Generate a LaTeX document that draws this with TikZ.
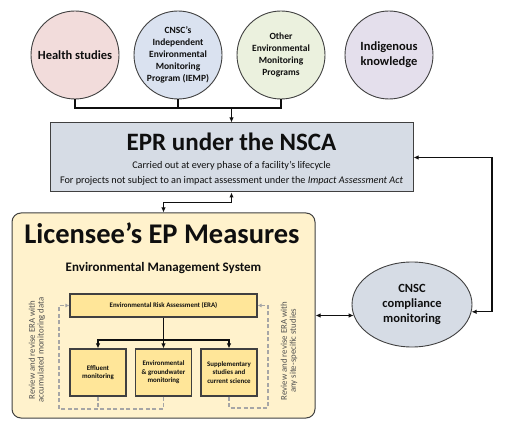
\documentclass[tikz,border=0pt]{standalone}
\usepackage{fontspec}
\setmainfont{Carlito}
\usetikzlibrary{arrows.meta,positioning,calc,shapes.geometric}
\definecolor{Ink}{RGB}{15,15,15}
\definecolor{Edge}{RGB}{64,64,64}
\definecolor{SoftPink}{RGB}{242,220,219}
\definecolor{SoftBlue}{RGB}{218,226,240}
\definecolor{SoftGreen}{RGB}{235,241,222}
\definecolor{SoftLilac}{RGB}{228,223,236}
\definecolor{PanelBlue}{RGB}{214,220,229}
\definecolor{PanelCream}{RGB}{255,242,204}
\definecolor{BoxGold}{RGB}{255,230,153}
\definecolor{DashGray}{RGB}{166,166,166}
\definecolor{NoteGray}{RGB}{80,80,80}
\tikzset{
  >={Latex[length=5pt,width=4.5pt]},
  source/.style={circle,draw=Edge,line width=.9pt,minimum size=88pt,inner sep=1pt,align=center,text=Ink,font=\bfseries\fontsize{12.5}{15}\selectfont},
  sourcesmall/.style={source,font=\bfseries\fontsize{9.5}{12}\selectfont},
  panel/.style={draw=Edge,line width=1pt,fill=PanelBlue,minimum width=363pt,minimum height=69pt},
  licpanel/.style={draw=Edge,line width=1pt,fill=PanelCream,rounded corners=9pt,minimum width=303pt,minimum height=205pt},
  stepbox/.style={draw=Edge,line width=1.1pt,fill=BoxGold,align=center,text=Ink,font=\bfseries\fontsize{6.9}{8.5}\selectfont,minimum width=56pt,minimum height=47pt,inner sep=1pt},
  title/.style={font=\bfseries\fontsize{25}{28}\selectfont,text=Ink},
  subline/.style={font=\fontsize{10.2}{12}\selectfont,text=Ink},
  note/.style={font=\fontsize{8.8}{8.8}\selectfont,text=NoteGray,align=center,rotate=90},
  check/.style={ellipse,draw=Edge,line width=.9pt,fill=PanelBlue,minimum width=120pt,minimum height=85pt,inner sep=0pt,align=center,text=Ink,font=\bfseries\fontsize{12.5}{15}\selectfont},
  link/.style={line width=1.3pt,draw=Ink},
  feedback/.style={line width=1.2pt,draw=DashGray,dash pattern=on 4pt off 2.5pt}
}
\begin{document}
\begin{tikzpicture}[x=1pt,y=-1pt]
  \useasboundingbox (0,0) rectangle (505,427);
  % input programs
  \node[source,fill=SoftPink] (health) at (75,55) {Health studies};
  \node[sourcesmall,fill=SoftBlue] (iemp) at (178,55) {CNSC’s\\Independent\\Environmental\\Monitoring\\Program (IEMP)};
  \node[sourcesmall,fill=SoftGreen] (other) at (281,55) {Other\\Environmental\\Monitoring\\Programs};
  \node[source,fill=SoftLilac] (indig) at (389,55) {Indigenous\\knowledge};
  % EPR
  \node[panel] (epr) at (231.5,157.5) {};
  \node[title] (eprtitle) at (231.5,142) {EPR under the NSCA};
  \node[subline] (eprone) at (231.5,166) {Carried out at every phase of a facility’s lifecycle};
  \node[subline] (eprtwo) at (231.5,181) {For projects not subject to an impact assessment under the \textit{Impact Assessment Act}};
  % licensee
  \node[licpanel] (lic) at (163.5,315.5) {};
  \node[title,font=\bfseries\fontsize{28.5}{30}\selectfont] (lictitle) at (162,233) {Licensee’s EP Measures};
  \node[font=\bfseries\fontsize{13}{15}\selectfont,text=Ink] (ems) at (163.5,268) {Environmental Management System};
  \node[stepbox,minimum width=187pt,minimum height=23pt] (era) at (163.5,305.5) {Environmental Risk Assessment (ERA)};
  \node[stepbox] (eff) at (98,372.5) {Effluent\\monitoring};
  \node[stepbox] (env) at (163.5,372.5) {Environmental\\\& groundwater\\monitoring};
  \node[stepbox] (supp) at (229,372.5) {Supplementary\\studies and\\current science};
  \node[note] (leftnote) at (37,350) {Review and revise ERA with\\accumulated monitoring data};
  \node[note] (rightnote) at (289,351) {Review and revise ERA with\\any site-specific studies};
  % compliance
  \node[check] (compl) at (412,304.5) {CNSC\\compliance\\monitoring};
  \coordinate (bus) at (231.5,108);
  \coordinate (rt) at (492,157.5);
  \coordinate (split) at (163.5,340);
  \coordinate (lfb) at (59,409);
  \coordinate (rfb) at (268,408);
  % connectors
  \draw[link] (health.south) |- (other.south |- bus) -- (other.south);
  \draw[link] (iemp.south) -- (iemp.south |- bus);
  \draw[link,->] (bus) -- (epr.north);
  \draw[link,<->] (epr.south) -- ++(0,10) -| (lic.north);
  \draw[link,<->] (epr.east) -- (rt) |- (compl.-7);
  \draw[link,<->] (lic.east) -- (lic.east -| compl.191);
  \draw[link] (era.south) -- (split);
  \draw[link,->] (split) -| (eff.north);
  \draw[link,->] (split) -- (env.north);
  \draw[link,->] (split) -| (supp.north);
  \draw[feedback] (eff.south) -- (eff.south |- lfb);
  \draw[feedback,->,>={Latex[length=4pt,width=4pt]}] (env.south) |- (lfb) |- (era.west);
  \draw[feedback,->,>={Latex[length=4pt,width=4pt]}] (supp.south) |- (rfb) |- (era.east);
\end{tikzpicture}
\end{document}
